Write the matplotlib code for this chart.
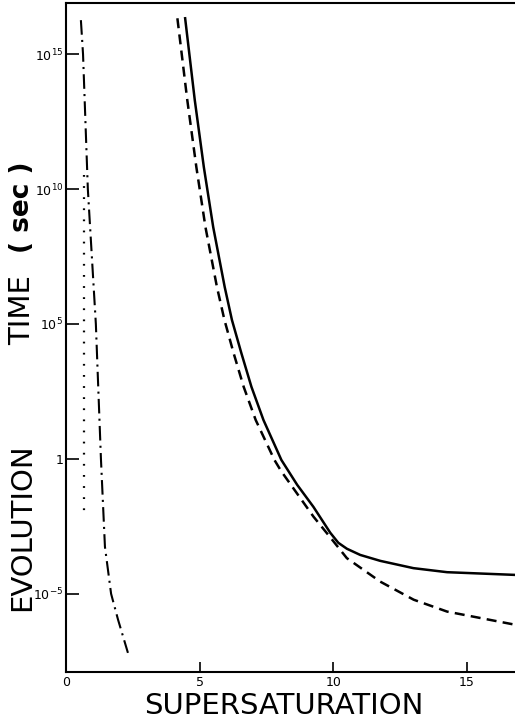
import numpy as np
import matplotlib
matplotlib.use("Agg")
import matplotlib.pyplot as plt

# supersaturation vs log10(evolution time in sec)
solid_x = [4.46, 4.82, 5.16, 5.51, 5.94, 6.21, 6.56, 6.94, 7.39, 8.06, 8.65, 9.26, 9.89, 10.19, 10.51, 11.01, 11.76, 13.0, 14.26, 16.8]
solid_log = [16.33, 13.30, 10.81, 8.59, 6.37, 5.15, 3.93, 2.67, 1.44, -0.04, -0.96, -1.78, -2.74, -3.11, -3.33, -3.56, -3.78, -4.05, -4.20, -4.30]

dashed_x = [4.17, 4.54, 4.88, 5.22, 5.65, 5.93, 6.27, 6.65, 7.10, 7.80, 8.05, 9.26, 9.89, 10.51, 11.76, 13.01, 14.26, 16.82]
dashed_log = [16.33, 13.30, 10.81, 8.59, 6.37, 5.15, 3.93, 2.67, 1.44, -0.04, -0.45, -2.14, -2.91, -3.68, -4.55, -5.22, -5.66, -6.15]

dashdot_x = [0.56, 0.64, 0.82, 1.12, 1.31, 1.46, 1.69, 1.95, 2.32]
dashdot_log = [16.26, 15.0, 10.0, 5.0, 0.0, -3.26, -5.0, -5.96, -7.19]

dotted_x = [0.69, 0.69]
dotted_log = [10.52, -2.22]

xticks = [0, 5, 10, 15]
yticks_log = [-5, 0, 5, 10, 15]
ytick_labels = [r"$10^{-5}$", "1", r"$10^{5}$", r"$10^{10}$", r"$10^{15}$"]

plt.rcParams['font.family'] = ['DejaVu Sans']

fig = plt.figure(figsize=(5.15, 7.23), dpi=100)
ax = fig.add_axes([0.128, 0.0705, 0.872, 0.9255])

ax.plot(solid_x, 10 ** np.array(solid_log), color='black', lw=1.8)
ax.plot(dashed_x, 10 ** np.array(dashed_log), color='black', lw=1.8, dashes=(4, 2.5))
ax.plot(dashdot_x, 10 ** np.array(dashdot_log), color='black', lw=1.5, dashes=(7, 2.5, 1, 2.5))
ax.plot(dotted_x, 10 ** np.array(dotted_log), color='black', lw=1.6, dashes=(0.8, 4.2))

ax.set_yscale('log')
ax.set_xlim(0, 16.8)
ax.set_ylim(10 ** -7.9, 10 ** 16.9)

ax.set_xticks(xticks)
ax.set_xticklabels([str(t) for t in xticks])
ax.set_yticks([10.0 ** e for e in yticks_log])
ax.set_yticklabels(ytick_labels)
ax.minorticks_off()
ax.tick_params(direction='in', length=7, width=1.2, labelsize=9, pad=3)
ax.tick_params(axis='y', length=9, pad=2)

for s in ['left', 'bottom', 'top']:
    ax.spines[s].set_linewidth(1.5)
ax.spines['right'].set_visible(False)

fig.text(0.551, 0.024, "SUPERSATURATION", ha='center', va='center', fontsize=21)
fig.text(0.042, 1 - 527 / 723, "EVOLUTION", rotation=90, ha='center', va='center', fontsize=21)
fig.text(0.042, 1 - 310 / 723, "TIME", rotation=90, ha='center', va='center', fontsize=21)
fig.text(0.042, 1 - 207 / 723, "( sec )", rotation=90, ha='center', va='center', fontsize=19, fontweight='bold')

fig.savefig("out.png", dpi=100)
